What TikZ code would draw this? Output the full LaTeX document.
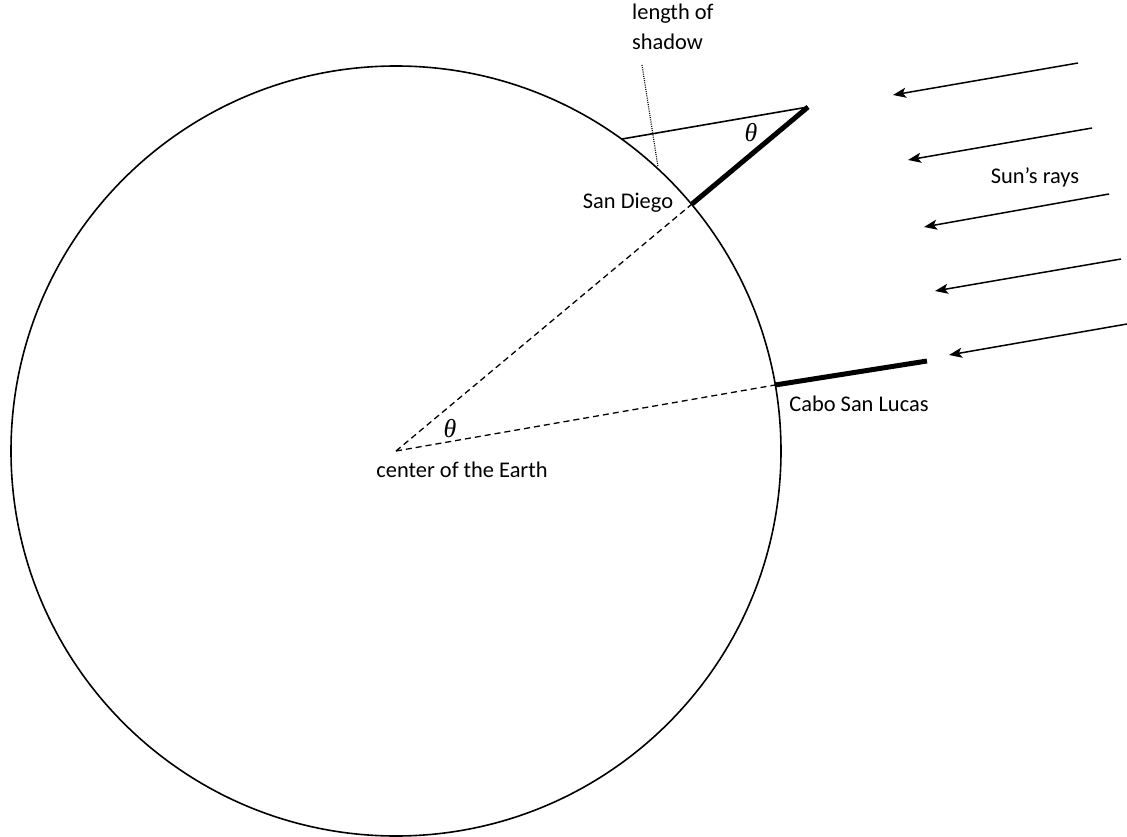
\documentclass[tikz,border=0pt]{standalone}
\usepackage{fontspec}
\setmainfont{Carlito}
\newfontfamily\thetafont{Liberation Serif}
\usetikzlibrary{arrows.meta}
\begin{document}
\begin{tikzpicture}[x=1bp,y=-1bp,
  lbl/.style={font=\fontsize{22.5}{30}\selectfont, inner sep=0pt},
  theta/.style={font=\thetafont\itshape\fontsize{26}{30}\selectfont, inner sep=0pt},
  outline/.style={line width=1.6bp, black},
  radial/.style={line width=1.3bp, dash pattern=on 6bp off 4bp},
  stick/.style={line width=5bp},
  pointer/.style={line width=1.2bp, dash pattern=on 1bp off 1.2bp},
  ray/.style={line width=1.5bp, -{Stealth[length=13bp,width=10bp,inset=3bp]}}]
\useasboundingbox (0,0) rectangle (1127,837);
% key points
\coordinate (C) at (396,451);
\coordinate (SD) at (692,204);
\coordinate (SDtop) at (808,107);
\coordinate (Sh) at (622,139);
\coordinate (CSL) at (775,385);
\coordinate (CSLtop) at (927,361);
\coordinate (P1) at (642,65);
\coordinate (P2) at (658,167);
% Earth
\draw[outline] (C) circle[radius=385];
% radii
\draw[radial] (C) -- (SD);
\draw[radial] (C) -- (CSL);
% sticks
\draw[stick] (SD) -- (SDtop);
\draw[stick] (CSL) -- (CSLtop);
% shadow line
\draw[outline] (Sh) -- (SDtop);
% pointer to shadow
\draw[pointer] (P1) -- (P2);
% sun's rays
\coordinate (r1s) at (1078,63);  \coordinate (r1e) at (893,95);
\coordinate (r2s) at (1092,128); \coordinate (r2e) at (908,160);
\coordinate (r3s) at (1109,194); \coordinate (r3e) at (924,227);
\coordinate (r4s) at (1121,259); \coordinate (r4e) at (935,291);
\coordinate (r5s) at (1127,324); \coordinate (r5e) at (949,355);
\draw[ray] (r1s) -- (r1e);
\draw[ray] (r2s) -- (r2e);
\draw[ray] (r3s) -- (r3e);
\draw[ray] (r4s) -- (r4e);
\draw[ray] (r5s) -- (r5e);
% labels
\node[lbl, anchor=north west, align=left] (lenlbl) at (632,4) {length of\\shadow};
\node[lbl, anchor=base] (sdlbl) at (628,208) {San Diego};
\node[lbl, anchor=base] (sunlbl) at (1035,183) {Sun’s rays};
\node[lbl, anchor=base] (csllbl) at (859,411) {Cabo San Lucas};
\node[lbl, anchor=base] (celbl) at (462,477) {center of the Earth};
\node[theta] (th1) at (751,133) {θ};
\node[theta] (th2) at (450,429) {θ};
\end{tikzpicture}
\end{document}
